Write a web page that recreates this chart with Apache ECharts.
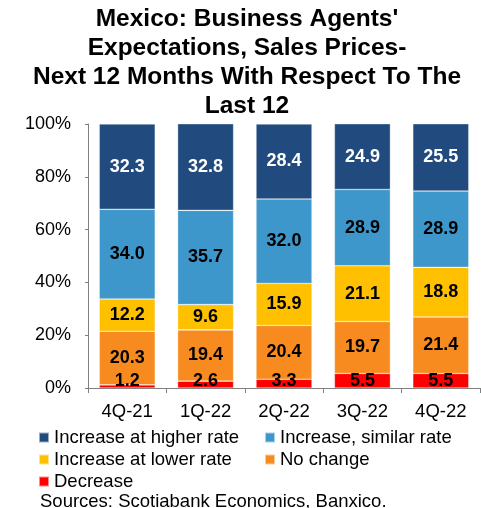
<!DOCTYPE html>
<html>
<head>
<meta charset="utf-8">
<script src="https://cdn.jsdelivr.net/npm/echarts@6/dist/echarts.min.js"></script>
<style>
html,body{margin:0;padding:0;background:#fff;}
#chart{width:481px;height:508px;}
</style>
</head>
<body>
<div id="chart"></div>
<script>
const categories = ['4Q-21', '1Q-22', '2Q-22', '3Q-22', '4Q-22'];
const decrease = [1.2, 2.6, 3.3, 5.5, 5.5];
const noChange = [20.3, 19.4, 20.4, 19.7, 21.4];
const lowerRate = [12.2, 9.6, 15.9, 21.1, 18.8];
const similarRate = [34.0, 35.7, 32.0, 28.9, 28.9];
const higherRate = [32.3, 32.8, 28.4, 24.9, 25.5];
const yTicks = [0, 20, 40, 60, 80, 100];

const FONT = 'Liberation Sans, Arial, sans-serif';
const chart = echarts.init(document.getElementById('chart'), null, {renderer: 'canvas'});

function seg(name, data, color, labelColor, extra) {
  return Object.assign({
    name: name,
    type: 'bar',
    stack: 'total',
    data: data,
    barWidth: 56,
    itemStyle: {color: color, borderColor: 'rgba(255,255,255,0.55)', borderWidth: 0.6},
    label: {
      show: true,
      position: 'inside',
      color: labelColor,
      fontFamily: FONT,
      fontWeight: 'bold',
      fontSize: 18,
      formatter: p => p.value.toFixed(1)
    },
    emphasis: {disabled: true}
  }, extra || {});
}

const option = {
  animation: false,
  textStyle: {fontFamily: FONT},
  title: {
    text: "Mexico: Business Agents'\nExpectations, Sales Prices-\nNext 12 Months With Respect To The\nLast 12",
    left: 247,
    top: 5,
    padding: 0,
    textAlign: 'center',
    textStyle: {fontFamily: FONT, fontWeight: 'bold', fontSize: 24.5, lineHeight: 29, color: '#000'}
  },
  grid: {left: 88, right: 1, top: 124, bottom: 120, containLabel: false},
  xAxis: {
    type: 'category',
    data: categories,
    axisLine: {lineStyle: {color: '#808080', width: 1}},
    axisTick: {show: true, length: 5, lineStyle: {color: '#808080'}},
    axisLabel: {color: '#000', fontFamily: FONT, fontSize: 18.5, margin: 14}
  },
  yAxis: {
    type: 'value',
    min: 0,
    max: 100,
    interval: 20,
    splitLine: {show: false},
    axisLine: {show: true, lineStyle: {color: '#808080', width: 1}},
    axisTick: {show: true, length: 3, lineStyle: {color: '#808080'}},
    axisLabel: {
      color: '#000', fontFamily: FONT, fontSize: 18, margin: 17,
      formatter: v => (yTicks.indexOf(v) >= 0 ? v + '%' : '')
    }
  },
  legend: [
    {
      data: ['Increase at higher rate', 'Increase at lower rate', 'Decrease'],
      orient: 'vertical', left: 38, top: 428, padding: 0,
      itemWidth: 10, itemHeight: 10, itemGap: 3, itemTextGap: 4,
      icon: 'rect',
      textStyle: {fontFamily: FONT, fontSize: 18.5, lineHeight: 18, color: '#000'}
    },
    {
      data: ['Increase, similar rate', 'No change'],
      orient: 'vertical', left: 264, top: 428, padding: 0,
      itemWidth: 10, itemHeight: 10, itemGap: 3, itemTextGap: 4,
      icon: 'rect',
      textStyle: {fontFamily: FONT, fontSize: 18.5, lineHeight: 18, color: '#000'}
    }
  ],
  graphic: [
    {
      type: 'text', left: 40, top: 492,
      style: {text: 'Sources: Scotiabank Economics, Banxico.', font: '18.5px ' + FONT, fill: '#000'}
    }
  ],
  series: [
    seg('Decrease', decrease, '#FF0000', '#000', {
      label: {show: true, position: 'insideBottom', distance: -2, color: '#000', fontFamily: FONT,
               fontWeight: 'bold', fontSize: 18, formatter: p => p.value.toFixed(1)}
    }),
    seg('No change', noChange, '#F78B1F', '#000'),
    seg('Increase at lower rate', lowerRate, '#FFC000', '#000'),
    seg('Increase, similar rate', similarRate, '#3E97CB', '#000'),
    seg('Increase at higher rate', higherRate, '#214B7E', '#fff')
  ]
};
chart.setOption(option);
</script>
</body>
</html>
